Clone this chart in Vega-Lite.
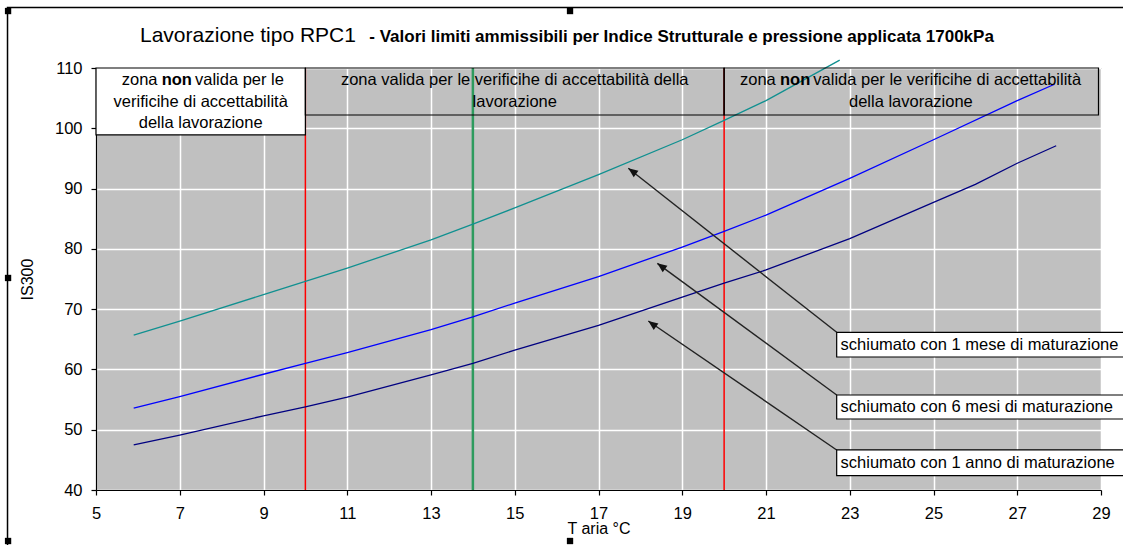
{
  "$schema": "https://vega.github.io/schema/vega-lite/v6.json",
  "width": 1005,
  "height": 422,
  "autosize": {"type": "none"},
  "padding": {"left": 96, "top": 68, "right": 22, "bottom": 55},
  "background": "#ffffff",
  "config": {
    "view": {"fill": "#c0c0c0", "stroke": "#808080", "strokeWidth": 1},
    "font": "Liberation Sans",
    "text": {"font": "Liberation Sans", "fontSize": 16.5, "color": "#000000"}
  },
  "datasets": {
    "curve": [
      {"serie": "schiumato con 1 mese di maturazione", "T": 5.9, "IS300": 65.7},
      {"serie": "schiumato con 1 mese di maturazione", "T": 7, "IS300": 68.0},
      {"serie": "schiumato con 1 mese di maturazione", "T": 9, "IS300": 72.4},
      {"serie": "schiumato con 1 mese di maturazione", "T": 10, "IS300": 74.6},
      {"serie": "schiumato con 1 mese di maturazione", "T": 11, "IS300": 76.8},
      {"serie": "schiumato con 1 mese di maturazione", "T": 13, "IS300": 81.5},
      {"serie": "schiumato con 1 mese di maturazione", "T": 14, "IS300": 84.1},
      {"serie": "schiumato con 1 mese di maturazione", "T": 15, "IS300": 86.8},
      {"serie": "schiumato con 1 mese di maturazione", "T": 17, "IS300": 92.3},
      {"serie": "schiumato con 1 mese di maturazione", "T": 19, "IS300": 98.1},
      {"serie": "schiumato con 1 mese di maturazione", "T": 20, "IS300": 101.3},
      {"serie": "schiumato con 1 mese di maturazione", "T": 21, "IS300": 104.6},
      {"serie": "schiumato con 1 mese di maturazione", "T": 22.76, "IS300": 111.3},
      {"serie": "schiumato con 6 mesi di maturazione", "T": 5.9, "IS300": 53.6},
      {"serie": "schiumato con 6 mesi di maturazione", "T": 7, "IS300": 55.5},
      {"serie": "schiumato con 6 mesi di maturazione", "T": 9, "IS300": 59.2},
      {"serie": "schiumato con 6 mesi di maturazione", "T": 10, "IS300": 61.0},
      {"serie": "schiumato con 6 mesi di maturazione", "T": 11, "IS300": 62.8},
      {"serie": "schiumato con 6 mesi di maturazione", "T": 13, "IS300": 66.6},
      {"serie": "schiumato con 6 mesi di maturazione", "T": 14, "IS300": 68.7},
      {"serie": "schiumato con 6 mesi di maturazione", "T": 15, "IS300": 71.0},
      {"serie": "schiumato con 6 mesi di maturazione", "T": 17, "IS300": 75.4},
      {"serie": "schiumato con 6 mesi di maturazione", "T": 19, "IS300": 80.3},
      {"serie": "schiumato con 6 mesi di maturazione", "T": 20, "IS300": 82.9},
      {"serie": "schiumato con 6 mesi di maturazione", "T": 21, "IS300": 85.6},
      {"serie": "schiumato con 6 mesi di maturazione", "T": 23, "IS300": 91.7},
      {"serie": "schiumato con 6 mesi di maturazione", "T": 25, "IS300": 98.1},
      {"serie": "schiumato con 6 mesi di maturazione", "T": 27, "IS300": 104.6},
      {"serie": "schiumato con 6 mesi di maturazione", "T": 27.89, "IS300": 107.3},
      {"serie": "schiumato con 1 anno di maturazione", "T": 5.9, "IS300": 47.5},
      {"serie": "schiumato con 1 anno di maturazione", "T": 7, "IS300": 49.1},
      {"serie": "schiumato con 1 anno di maturazione", "T": 9, "IS300": 52.3},
      {"serie": "schiumato con 1 anno di maturazione", "T": 10, "IS300": 53.8},
      {"serie": "schiumato con 1 anno di maturazione", "T": 11, "IS300": 55.4},
      {"serie": "schiumato con 1 anno di maturazione", "T": 13, "IS300": 59.1},
      {"serie": "schiumato con 1 anno di maturazione", "T": 14, "IS300": 61.0},
      {"serie": "schiumato con 1 anno di maturazione", "T": 15, "IS300": 63.2},
      {"serie": "schiumato con 1 anno di maturazione", "T": 17, "IS300": 67.3},
      {"serie": "schiumato con 1 anno di maturazione", "T": 19, "IS300": 72.0},
      {"serie": "schiumato con 1 anno di maturazione", "T": 20, "IS300": 74.3},
      {"serie": "schiumato con 1 anno di maturazione", "T": 21, "IS300": 76.5},
      {"serie": "schiumato con 1 anno di maturazione", "T": 23, "IS300": 81.7},
      {"serie": "schiumato con 1 anno di maturazione", "T": 25, "IS300": 87.7},
      {"serie": "schiumato con 1 anno di maturazione", "T": 26, "IS300": 90.7},
      {"serie": "schiumato con 1 anno di maturazione", "T": 27, "IS300": 94.2},
      {"serie": "schiumato con 1 anno di maturazione", "T": 27.93, "IS300": 97.1}
    ],
    "limiti": [{"T": 10}, {"T": 20}],
    "riferimento": [{"T": 14}],
    "zonaBianca": [{"zona": "non valida bassa", "x1": 5, "x2": 10, "y1": 110, "y2": 98.9}],
    "zoneTrasparenti": [
      {"zona": "valida", "x1": 10, "x2": 20, "y1": 110, "y2": 102.2},
      {"zona": "non valida alta", "x1": 20, "x2": 28.94, "y1": 110, "y2": 102.2}
    ],
    "righeCentrate": [
      {"riga": "verificihe di accettabilità", "x": 7.5, "y": 104.4},
      {"riga": "della lavorazione", "x": 7.5, "y": 100.8},
      {"riga": "zona valida per le verificihe di accettabilità della", "x": 15, "y": 108.0},
      {"riga": "lavorazione", "x": 15, "y": 104.4},
      {"riga": "della lavorazione", "x": 24.46, "y": 104.4}
    ],
    "segmenti": [
      {"riga": "zona", "x": 5.614, "y": 108.0},
      {"riga": "valida per le", "x": 7.364, "y": 108.0},
      {"riga": "zona", "x": 20.379, "y": 108.0},
      {"riga": "valida per le verificihe di accettabilità", "x": 22.13, "y": 108.0}
    ],
    "enfasi": [
      {"riga": "non", "x": 6.569, "y": 108.0},
      {"riga": "non", "x": 21.334, "y": 108.0}
    ],
    "frecce": [
      {"serie": "1 mese", "x": 22.688, "y": 66.16, "x2": 17.712, "y2": 93.36},
      {"serie": "6 mesi", "x": 22.688, "y": 55.76, "x2": 18.404, "y2": 77.6},
      {"serie": "1 anno", "x": 22.688, "y": 46.64, "x2": 18.189, "y2": 68.03}
    ],
    "etichette": [
      {"testo": "schiumato con 1 mese di maturazione", "x": 22.688, "x2": 29.7, "y": 66.16, "y2": 62.06, "tx": 22.78, "ty": 64.1},
      {"testo": "schiumato con 6 mesi di maturazione", "x": 22.688, "x2": 29.7, "y": 55.76, "y2": 51.78, "tx": 22.78, "ty": 53.77},
      {"testo": "schiumato con 1 anno di maturazione", "x": 22.688, "x2": 29.7, "y": 46.64, "y2": 42.37, "tx": 22.78, "ty": 44.5}
    ],
    "titolo": [{"testo": "Lavorazione tipo RPC1", "x": 6.051, "y": 114.26}],
    "sottotitolo": [{"testo": "- Valori limiti ammissibili per Indice Strutturale e pressione applicata 1700kPa", "x": 11.527, "y": 114.26}],
    "cornice": [{"x": 2.887, "x2": 29.69, "y": 120.04, "y2": 30.71}],
    "maniglie": [
      {"x": 2.9, "y": 119.45},
      {"x": 16.32, "y": 119.45},
      {"x": 2.9, "y": 75.17},
      {"x": 2.9, "y": 31.54},
      {"x": 16.32, "y": 31.54}
    ]
  },
  "layer": [
    {
      "data": {"name": "limiti"},
      "mark": {"type": "rule", "color": "#ff0000", "strokeWidth": 1.5},
      "encoding": {
        "x": {
          "field": "T", "type": "quantitative",
          "scale": {"domain": [5, 29], "nice": false, "zero": false},
          "axis": {
            "values": [5, 7, 9, 11, 13, 15, 17, 19, 21, 23, 25, 27, 29],
            "title": "T aria °C",
            "grid": true, "gridColor": "#ffffff", "gridWidth": 1.5,
            "domainColor": "#000000", "domainWidth": 1.2,
            "tickColor": "#000000", "tickSize": 5, "tickWidth": 1.2,
            "labelFont": "Liberation Sans", "labelFontSize": 16.5, "labelColor": "#000000",
            "labelPadding": 10, "labelFlush": false, "labelOverlap": false,
            "titleFont": "Liberation Sans", "titleFontSize": 16, "titleFontWeight": "normal",
            "titleColor": "#000000", "titleY": 43.5, "titleBaseline": "alphabetic"
          }
        }
      }
    },
    {
      "data": {"name": "riferimento"},
      "mark": {"type": "rule", "color": "#2e9b5e", "strokeWidth": 2.5},
      "encoding": {
        "x": {"field": "T", "type": "quantitative", "scale": {"domain": [5, 29], "nice": false, "zero": false}}
      }
    },
    {
      "data": {"name": "curve"},
      "mark": {"type": "line", "interpolate": "linear", "strokeWidth": 1.3},
      "encoding": {
        "x": {"field": "T", "type": "quantitative", "scale": {"domain": [5, 29], "nice": false, "zero": false}},
        "y": {
          "field": "IS300", "type": "quantitative",
          "scale": {"domain": [40, 110], "nice": false, "zero": false},
          "axis": {
            "values": [40, 45, 50, 55, 60, 65, 70, 75, 80, 85, 90, 95, 100, 105, 110],
            "title": "IS300",
            "grid": true, "gridColor": "#ffffff", "gridWidth": 1.5,
            "domainColor": "#000000", "domainWidth": 1.2,
            "tickColor": "#000000", "tickSize": 5, "tickWidth": 1.2,
            "tickOpacity": {"condition": {"test": "datum.value % 10 === 0", "value": 1}, "value": 0},
            "labelExpr": "datum.value % 10 === 0 ? datum.label : ''",
            "labelFont": "Liberation Sans", "labelFontSize": 16.5, "labelColor": "#000000",
            "labelPadding": 9, "labelFlush": false, "labelOverlap": false,
            "titleFont": "Liberation Sans", "titleFontSize": 16, "titleFontWeight": "normal",
            "titleColor": "#000000", "titleX": -69, "titleY": 211, "titleAngle": 270,
            "titleBaseline": "middle", "titleAlign": "center"
          }
        },
        "color": {
          "field": "serie", "type": "nominal",
          "scale": {
            "domain": ["schiumato con 1 mese di maturazione", "schiumato con 6 mesi di maturazione", "schiumato con 1 anno di maturazione"],
            "range": ["#109090", "#0000ff", "#000080"]
          },
          "legend": null
        }
      }
    },
    {
      "data": {"name": "zonaBianca"},
      "mark": {"type": "rect", "fill": "#ffffff", "stroke": "#000000", "strokeWidth": 1.2},
      "encoding": {
        "x": {"field": "x1", "type": "quantitative", "scale": {"domain": [5, 29], "nice": false, "zero": false}},
        "x2": {"field": "x2"},
        "y": {"field": "y1", "type": "quantitative", "scale": {"domain": [40, 110], "nice": false, "zero": false}},
        "y2": {"field": "y2"}
      }
    },
    {
      "data": {"name": "zoneTrasparenti"},
      "mark": {"type": "rect", "fill": "transparent", "stroke": "#000000", "strokeWidth": 1.2},
      "encoding": {
        "x": {"field": "x1", "type": "quantitative", "scale": {"domain": [5, 29], "nice": false, "zero": false}},
        "x2": {"field": "x2"},
        "y": {"field": "y1", "type": "quantitative", "scale": {"domain": [40, 110], "nice": false, "zero": false}},
        "y2": {"field": "y2"}
      }
    },
    {
      "data": {"name": "righeCentrate"},
      "mark": {"type": "text", "align": "center", "baseline": "middle", "fontSize": 16.5},
      "encoding": {
        "x": {"field": "x", "type": "quantitative", "scale": {"domain": [5, 29], "nice": false, "zero": false}},
        "y": {"field": "y", "type": "quantitative", "scale": {"domain": [40, 110], "nice": false, "zero": false}},
        "text": {"field": "riga"}
      }
    },
    {
      "data": {"name": "segmenti"},
      "mark": {"type": "text", "align": "left", "baseline": "middle", "fontSize": 16.5},
      "encoding": {
        "x": {"field": "x", "type": "quantitative", "scale": {"domain": [5, 29], "nice": false, "zero": false}},
        "y": {"field": "y", "type": "quantitative", "scale": {"domain": [40, 110], "nice": false, "zero": false}},
        "text": {"field": "riga"}
      }
    },
    {
      "data": {"name": "enfasi"},
      "mark": {"type": "text", "align": "left", "baseline": "middle", "fontSize": 16.5, "fontWeight": "bold"},
      "encoding": {
        "x": {"field": "x", "type": "quantitative", "scale": {"domain": [5, 29], "nice": false, "zero": false}},
        "y": {"field": "y", "type": "quantitative", "scale": {"domain": [40, 110], "nice": false, "zero": false}},
        "text": {"field": "riga"}
      }
    },
    {
      "data": {"name": "frecce"},
      "mark": {"type": "rule", "color": "#222222", "strokeWidth": 1.4},
      "encoding": {
        "x": {"field": "x", "type": "quantitative", "scale": {"domain": [5, 29], "nice": false, "zero": false}},
        "y": {"field": "y", "type": "quantitative", "scale": {"domain": [40, 110], "nice": false, "zero": false}},
        "x2": {"field": "x2"},
        "y2": {"field": "y2"}
      }
    },
    {
      "data": {"name": "frecce"},
      "mark": {"type": "point", "shape": "M0,0L-1,2.4L1,2.4Z", "filled": true, "size": 64, "angle": 306, "color": "#111111", "opacity": 1},
      "encoding": {
        "x": {"field": "x2", "type": "quantitative", "scale": {"domain": [5, 29], "nice": false, "zero": false}},
        "y": {"field": "y2", "type": "quantitative", "scale": {"domain": [40, 110], "nice": false, "zero": false}}
      }
    },
    {
      "data": {"name": "etichette"},
      "mark": {"type": "rect", "fill": "#ffffff", "stroke": "#000000", "strokeWidth": 1.2},
      "encoding": {
        "x": {"field": "x", "type": "quantitative", "scale": {"domain": [5, 29], "nice": false, "zero": false}},
        "x2": {"field": "x2"},
        "y": {"field": "y", "type": "quantitative", "scale": {"domain": [40, 110], "nice": false, "zero": false}},
        "y2": {"field": "y2"}
      }
    },
    {
      "data": {"name": "etichette"},
      "mark": {"type": "text", "align": "left", "baseline": "middle", "fontSize": 16.5},
      "encoding": {
        "x": {"field": "tx", "type": "quantitative", "scale": {"domain": [5, 29], "nice": false, "zero": false}},
        "y": {"field": "ty", "type": "quantitative", "scale": {"domain": [40, 110], "nice": false, "zero": false}},
        "text": {"field": "testo"}
      }
    },
    {
      "data": {"name": "titolo"},
      "mark": {"type": "text", "align": "left", "baseline": "alphabetic", "fontSize": 21, "fontWeight": "normal"},
      "encoding": {
        "x": {"field": "x", "type": "quantitative", "scale": {"domain": [5, 29], "nice": false, "zero": false}},
        "y": {"field": "y", "type": "quantitative", "scale": {"domain": [40, 110], "nice": false, "zero": false}},
        "text": {"field": "testo"}
      }
    },
    {
      "data": {"name": "sottotitolo"},
      "mark": {"type": "text", "align": "left", "baseline": "alphabetic", "fontSize": 17, "fontWeight": "bold"},
      "encoding": {
        "x": {"field": "x", "type": "quantitative", "scale": {"domain": [5, 29], "nice": false, "zero": false}},
        "y": {"field": "y", "type": "quantitative", "scale": {"domain": [40, 110], "nice": false, "zero": false}},
        "text": {"field": "testo"}
      }
    },
    {
      "data": {"name": "cornice"},
      "mark": {"type": "rect", "fill": "transparent", "stroke": "#000000", "strokeWidth": 1.5},
      "encoding": {
        "x": {"field": "x", "type": "quantitative", "scale": {"domain": [5, 29], "nice": false, "zero": false}},
        "x2": {"field": "x2"},
        "y": {"field": "y", "type": "quantitative", "scale": {"domain": [40, 110], "nice": false, "zero": false}},
        "y2": {"field": "y2"}
      }
    },
    {
      "data": {"name": "maniglie"},
      "mark": {"type": "square", "size": 40, "color": "#000000", "opacity": 1},
      "encoding": {
        "x": {"field": "x", "type": "quantitative", "scale": {"domain": [5, 29], "nice": false, "zero": false}},
        "y": {"field": "y", "type": "quantitative", "scale": {"domain": [40, 110], "nice": false, "zero": false}}
      }
    }
  ]
}
